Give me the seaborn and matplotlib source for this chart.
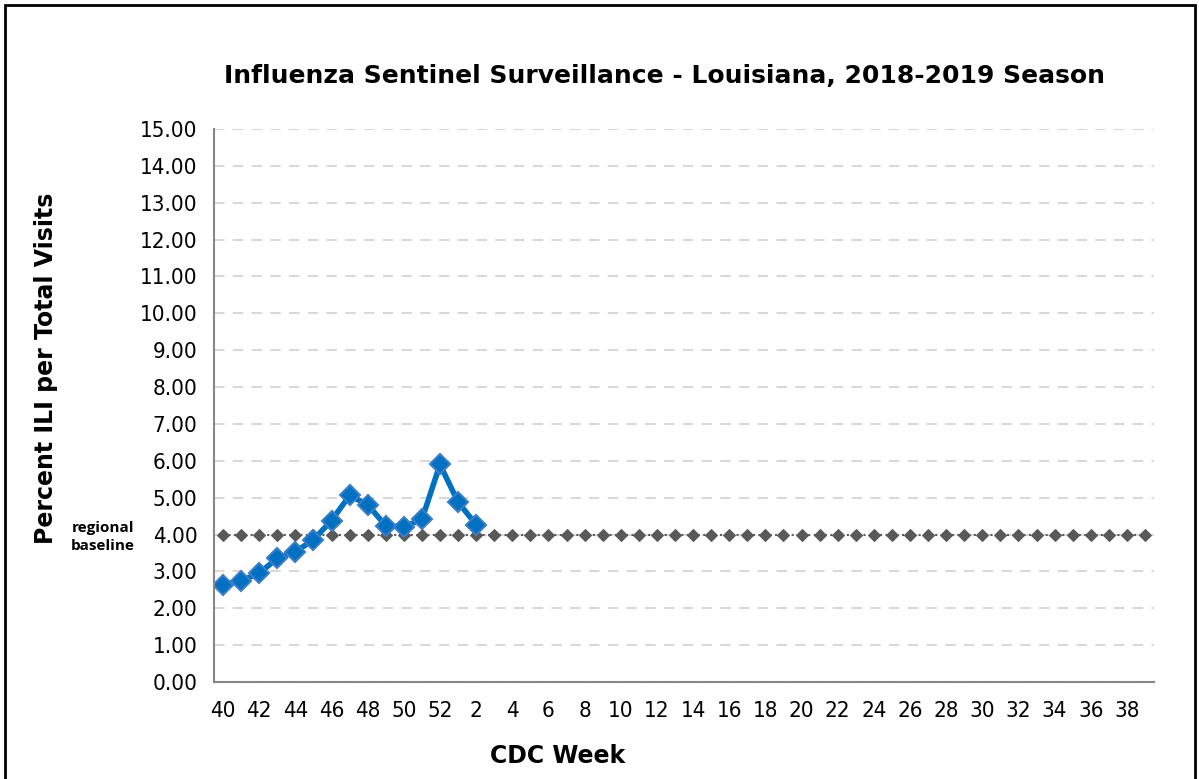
import numpy as np
import pandas as pd
import seaborn as sns
import matplotlib.pyplot as plt
from matplotlib.patches import Rectangle
from matplotlib import font_manager

# Semanas CDC de la temporada (40-52, luego 1-39)
semanas = list(range(40, 53)) + list(range(1, 40))
# % ILI observado (semana 40 a semana 2)
ili_pct = [2.63, 2.75, 2.95, 3.36, 3.53, 3.86, 4.38, 5.06, 4.81, 4.24, 4.21, 4.41, 5.90, 4.88, 4.27]
linea_base = 4.00
y_ticks = np.arange(0, 16, 1)

sns.set_style("white")
plt.rcParams['font.family'] = ['DejaVu Sans']
plt.rcParams['text.color'] = 'black'
plt.rcParams['xtick.color'] = 'black'
plt.rcParams['ytick.color'] = 'black'

# fuente angosta para los ticks si existe
nombres = {f.name for f in font_manager.fontManager.ttflist}
condensada = [f for f in font_manager.fontManager.ttflist
              if f.name == 'DejaVu Sans' and 'ondensed' in str(f.stretch) + f.fname]
if 'Liberation Sans Narrow' in nombres:
    props_ticks = dict(family=['Liberation Sans Narrow', 'DejaVu Sans'], fontsize=17)
elif condensada:
    props_ticks = dict(family=['DejaVu Sans'], stretch='condensed', fontsize=16)
else:
    props_ticks = dict(family=['DejaVu Sans'], fontsize=15)

pos = np.arange(len(semanas))
df_ili = pd.DataFrame({"pos": pos[:len(ili_pct)], "ili": ili_pct})
df_base = pd.DataFrame({"pos": pos, "base": [linea_base] * len(semanas)})

fig = plt.figure(figsize=(11.99, 7.79), dpi=100)
ax = fig.add_axes([0.1785, 0.1245, 0.784, 0.7099])

# linea base regional
sns.lineplot(data=df_base, x="pos", y="base", ax=ax, color="#595959", linestyle=":",
             linewidth=1.5, marker="D", markersize=6, markeredgecolor="#595959")
# serie ILI
sns.lineplot(data=df_ili, x="pos", y="ili", ax=ax, color="#0070C0", linewidth=4,
             marker="D", markersize=10, markeredgecolor="#3B7DC8", markeredgewidth=1.5)

ax.set_xlim(-0.5, len(semanas) - 0.5)
ax.set_ylim(0, 15)
ax.set_yticks(y_ticks)
ax.set_yticklabels([f"{v:.2f}" for v in y_ticks], **props_ticks)
ax.set_xticks(pos[::2])
ax.set_xticklabels([str(s) for s in semanas[::2]], **props_ticks)
ax.set_xticks(np.arange(-0.5, len(semanas), 1), minor=True)
ax.tick_params(axis="x", which="major", length=0, pad=14)
ax.tick_params(axis="x", which="minor", length=6, color="#868686", width=1.5, direction="out")
ax.tick_params(axis="y", length=6, color="#868686", width=1.5, direction="out", pad=6)
ax.grid(axis="y", color="#D9D9D9", linestyle=(0, (5, 4)), linewidth=1.5)
ax.set_axisbelow(True)
for lado in ["top", "right"]:
    ax.spines[lado].set_visible(False)
for lado in ["left", "bottom"]:
    ax.spines[lado].set_color("#868686")
    ax.spines[lado].set_linewidth(1.5)

ax.set_xlabel("")
ax.set_ylabel("")
fig.text(0.554, 0.902, "Influenza Sentinel Surveillance - Louisiana, 2018-2019 Season",
         ha="center", va="center", fontsize=18, fontweight="bold")
fig.text(0.038, 0.527, "Percent ILI per Total Visits", rotation=90, ha="center", va="center",
         fontsize=17, fontweight="bold")
fig.text(0.465, 0.029, "CDC Week", ha="center", va="center", fontsize=17, fontweight="bold")
fig.text(0.086, 0.311, "regional\nbaseline", ha="center", va="center", fontsize=11,
         fontweight="bold", family=['Open Sans', 'DejaVu Sans'], linespacing=1.35)

# marco del grafico
fig.patches.append(Rectangle((0.004, -0.01), 0.993, 1.004, transform=fig.transFigure,
                             fill=False, edgecolor="black", linewidth=2))

plt.savefig("out.png", dpi=100)
plt.close()
